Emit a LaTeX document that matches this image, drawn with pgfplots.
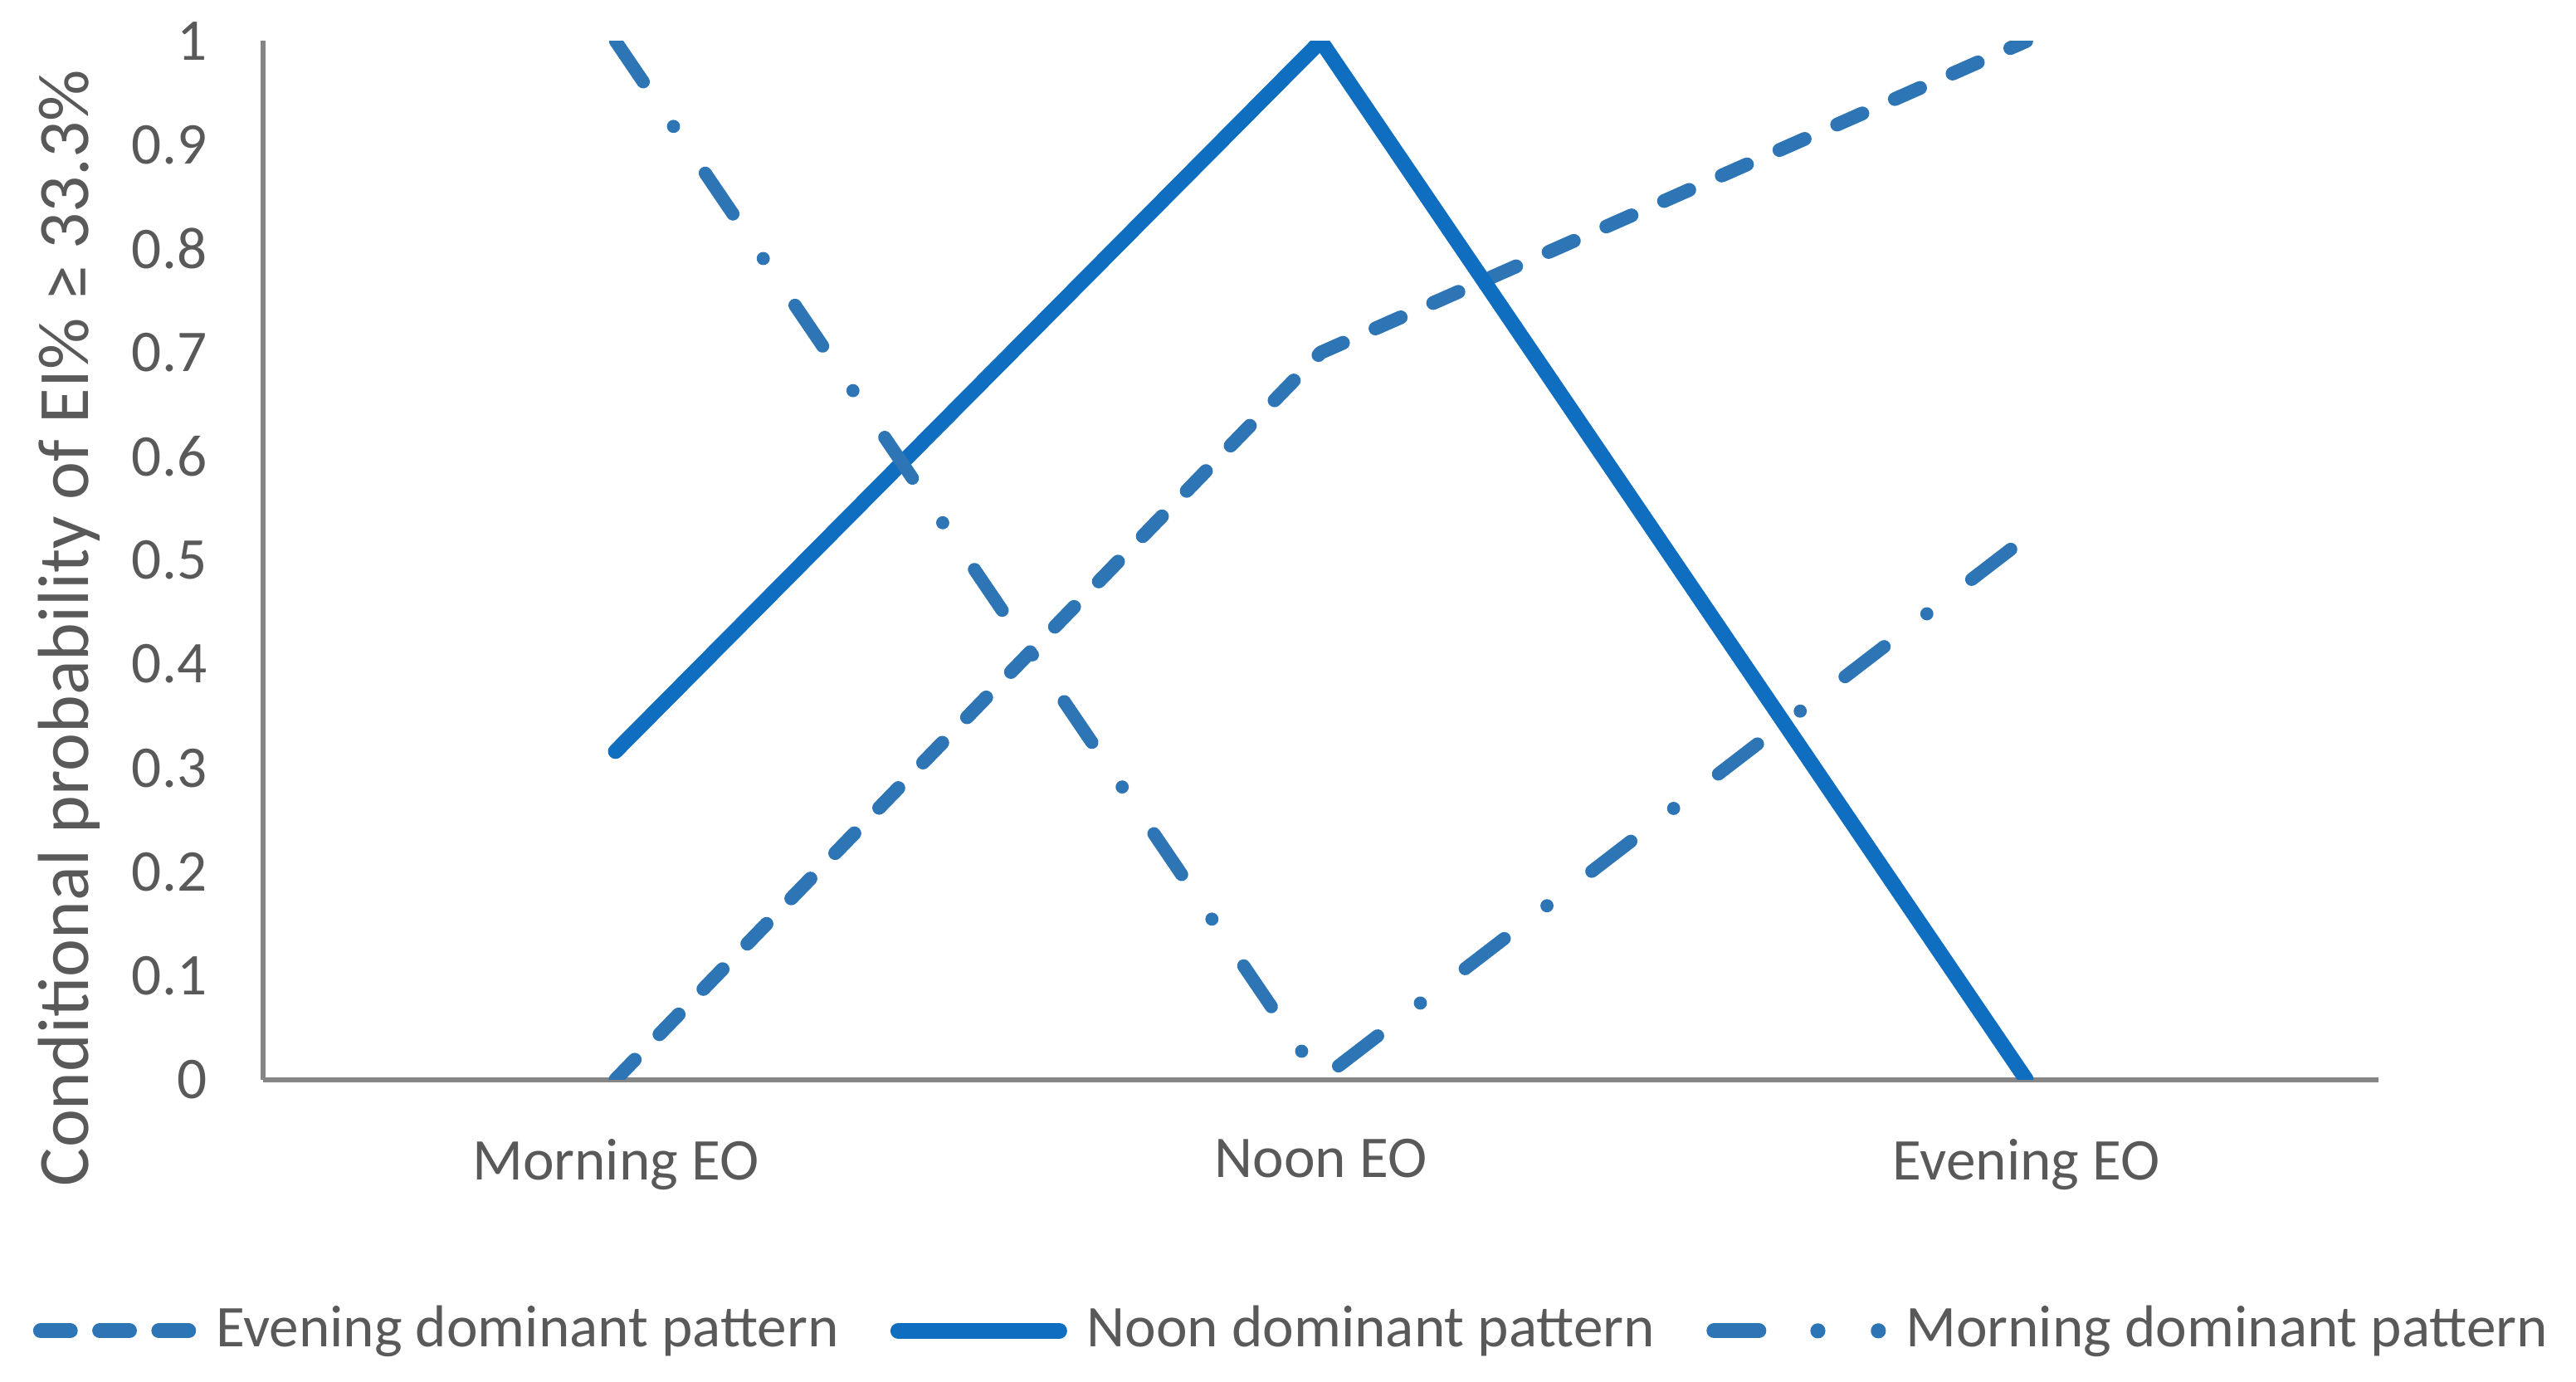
\documentclass[border=0pt]{standalone}
\usepackage{pgfplots}
\pgfplotsset{compat=1.18}
\usepackage{fontspec}
\setmainfont{Carlito}
\definecolor{txt}{RGB}{89,89,89}
\definecolor{axisgray}{RGB}{134,134,134}
\definecolor{solidblue}{RGB}{16,110,192}
\definecolor{dashblue}{RGB}{46,117,182}
\begin{document}
\begin{tikzpicture}
\begin{axis}[
  scale only axis,
  width=322pt, height=158pt,
  xmin=-0.5, xmax=2.5, ymin=0, ymax=1,
  axis x line=bottom, axis y line=left,
  axis line style={-, draw=axisgray, line width=0.75pt},
  xtick={0,1,2}, xticklabels={Morning EO, Noon EO, Evening EO},
  ytick={0,0.1,0.2,0.3,0.4,0.5,0.6,0.7,0.8,0.9,1},
  major tick length=0pt,
  tick label style={font=\fontsize{9}{11}\selectfont, text=txt},
  /pgf/number format/assume math mode=true,
  yticklabel style={xshift=-5pt},
  xticklabel style={yshift=-5.5pt},
  ylabel={Conditional probability of EI\% ≥ 33.3\%},
  ylabel style={font=\fontsize{11}{13}\selectfont, text=txt, at={(axis description cs:-0.0916,0.435)}, anchor=center},
  legend style={at={(axis description cs:-0.1092,-0.242)}, anchor=west, draw=none, fill=none, inner sep=0pt,
    font=\fontsize{9}{11}\selectfont, text=txt, nodes={inner sep=0pt},
    /tikz/every odd column/.append style={column sep=3pt},
    /tikz/every even column/.append style={column sep=7.85pt}},
  legend columns=3,
  legend cell align=left,
]
\addplot[dashblue, line width=2.1pt, line cap=round, line join=round, mark=none,
  dash pattern=on 4.2pt off 5.4pt,
  legend image code/.code={\draw[dashblue, line width=2.3pt, line cap=round, dash pattern=on 4.5pt off 4.5pt] (0pt,0pt) -- (22.5pt,0pt);}]
  coordinates {(0,0) (1,0.7) (2,1)};
\addlegendentry{Evening dominant pattern}
\addplot[solidblue, line width=2.3pt, line cap=round, line join=miter, mark=none,
  legend image code/.code={\draw[solidblue, line width=2.4pt, line cap=round] (0pt,0pt) -- (24.5pt,0pt);}]
  coordinates {(0,0.316) (1,1) (2,0)};
\addlegendentry{Noon dominant pattern}
\addplot[dashblue, line width=2pt, line cap=round, line join=round, mark=none,
  dash pattern=on 7.5pt off 8.2pt on 0pt off 8.6pt,
  legend image code/.code={\draw[dashblue, line width=2.3pt, line cap=round, dash pattern=on 6.8pt off 9pt on 0pt off 9.2pt on 0pt off 5pt] (0pt,0pt) -- (25pt,0pt);}]
  coordinates {(0,1) (1,0) (2,0.522)};
\addlegendentry{Morning dominant pattern}
\end{axis}
\pgfresetboundingbox
\path ([xshift=-40pt,yshift=-46pt]current axis.south west) rectangle ([xshift=30pt,yshift=6.25pt]current axis.north east);
\end{tikzpicture}
\end{document}
